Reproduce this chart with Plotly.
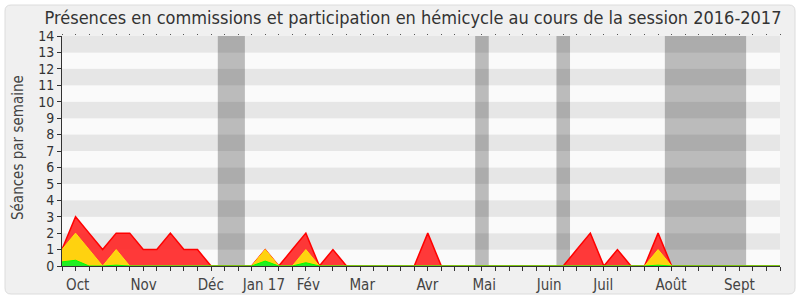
import plotly.graph_objects as go

# ---- data (weekly, session 2016-2017) ----
weeks = list(range(54))
total = [1, 3, 2, 1, 2, 2, 1, 1, 2, 1, 1, 0, 0, 0, 0, 1, 0, 1, 2, 0,
         1, 0, 0, 0, 0, 0, 0, 2, 0, 0, 0, 0, 0, 0, 0, 0, 0, 0, 1, 2,
         0, 1, 0, 0, 2, 0, 0, 0, 0, 0, 0, 0, 0, 0]
hemicycle = [1, 2, 1, 0, 1, 0, 0, 0, 0, 0, 0, 0, 0, 0, 0, 1, 0, 0, 1, 0,
             0, 0, 0, 0, 0, 0, 0, 0, 0, 0, 0, 0, 0, 0, 0, 0, 0, 0, 0, 0,
             0, 0, 0, 0, 1, 0, 0, 0, 0, 0, 0, 0, 0, 0]
commission = [0.25, 0.35, 0, 0, 0.05, 0, 0, 0, 0, 0, 0, 0, 0, 0, 0, 0.3, 0, 0, 0.2, 0,
              0, 0, 0, 0, 0, 0, 0, 0, 0, 0, 0, 0, 0, 0, 0, 0, 0, 0, 0, 0,
              0, 0, 0, 0, 0.05, 0, 0, 0, 0, 0, 0, 0, 0, 0]
month_labels = ["Oct", "Nov", "Déc", "Jan 17", "Fév", "Mar", "Avr", "Mai",
                "Juin", "Juil", "Août", "Sept"]
month_pos = [1.16, 6.02, 10.98, 14.9, 18.18, 22.16, 26.97, 31.17,
             35.96, 39.96, 44.95, 50.0]
vacations = [(11.5, 13.5), (30.5, 31.5), (36.5, 37.5), (44.5, 50.5)]
y_ticks = list(range(15))

# ---- layout geometry ----
W, H = 800, 300
L, R, T, B = 62, 20, 36, 34
PW, PH = W - L - R, H - T - B


def px(x):
    return (x - L) / PW


def py(y):
    return (H - B - y) / PH


FONT = "DejaVu Sans Condensed, DejaVu Sans"
fig = go.Figure()

fig.add_trace(go.Scatter(x=weeks, y=total, mode="lines", fill="tozeroy",
                         line=dict(color="#ff0000", width=1.5),
                         fillcolor="rgba(255,40,40,0.92)",
                         hoverinfo="skip", showlegend=False))
fig.add_trace(go.Scatter(x=weeks, y=hemicycle, mode="lines", fill="tozeroy",
                         line=dict(color="#ffe010", width=1),
                         fillcolor="#ffd20f",
                         hoverinfo="skip", showlegend=False))
fig.add_trace(go.Scatter(x=weeks, y=commission, mode="lines", fill="tozeroy",
                         line=dict(color="#00ff00", width=1),
                         fillcolor="#22ee22",
                         hoverinfo="skip", showlegend=False))
# invisible trace for top tick axis
fig.add_trace(go.Scatter(x=weeks, y=[0] * len(weeks), xaxis="x2", mode="lines",
                         line=dict(width=0), hoverinfo="skip", showlegend=False))

shapes = []
# rounded frame
x0, x1, y0, y1, r = px(5), px(795), py(294), py(5), 6
rx, ry = r / PW, r / PH
path = (f"M {x0+rx},{y1} L {x1-rx},{y1} Q {x1},{y1} {x1},{y1-ry} "
        f"L {x1},{y0+ry} Q {x1},{y0} {x1-rx},{y0} L {x0+rx},{y0} "
        f"Q {x0},{y0} {x0},{y0+ry} L {x0},{y1-ry} Q {x0},{y1} {x0+rx},{y1} Z")
shapes.append(dict(type="path", path=path, xref="paper", yref="paper",
                   fillcolor="#f0f0f0", line=dict(color="#dcdcdc", width=1),
                   layer="below"))
# stripes
for k in range(14):
    shapes.append(dict(type="rect", xref="paper", yref="y", x0=0, x1=1,
                       y0=k, y1=k + 1, line=dict(width=0), layer="below",
                       fillcolor="#e6e6e6" if k % 2 == 1 else "#fafafa"))
# vacation bands
for a, b in vacations:
    shapes.append(dict(type="rect", xref="x", yref="paper", x0=a, x1=b,
                       y0=0, y1=1, line=dict(width=0), layer="below",
                       fillcolor="rgba(0,0,0,0.25)"))

fig.update_layout(
    width=W, height=H,
    margin=dict(l=L, r=R, t=T, b=B, autoexpand=False),
    paper_bgcolor="white", plot_bgcolor="rgba(0,0,0,0)",
    shapes=shapes,
    title=dict(text="Présences en commissions et participation en hémicycle au cours de la session 2016-2017",
               x=413 / W, xref="container", xanchor="center",
               y=1 - 18 / H, yref="container", yanchor="middle",
               font=dict(family=FONT, size=18, color="#333333")),
    xaxis=dict(range=[0, 53], tickvals=month_pos, ticktext=month_labels,
               ticks="outside", ticklen=0, ticklabelstandoff=5,
               showgrid=False, zeroline=False, showline=True,
               linecolor="#333333", linewidth=1, automargin=False,
               tickfont=dict(family=FONT, size=15, color="#444444"),
               minor=dict(tickmode="linear", tick0=0, dtick=1, ticks="outside",
                          ticklen=4, tickcolor="#333333", tickwidth=1,
                          showgrid=False)),
    xaxis2=dict(range=[0, 53], overlaying="x", side="top", matches="x",
                tickmode="array", tickvals=weeks, ticks="outside", ticklen=1,
                tickcolor="#555555", showticklabels=False, showgrid=False,
                zeroline=False, showline=False, automargin=False),
    yaxis=dict(range=[0, 14], tickvals=y_ticks, ticks="outside", ticklen=4,
               tickcolor="#333333", showgrid=False, zeroline=False,
               showline=True, linecolor="#333333", linewidth=1, automargin=False,
               tickfont=dict(family=FONT, size=14, color="#333333")),
    annotations=[dict(text="Séances par semaine", xref="paper", yref="paper",
                      x=px(18), y=py(148), xanchor="center", yanchor="middle",
                      textangle=-90, showarrow=False,
                      font=dict(family=FONT, size=15, color="#444444"))],
)

fig.write_html("out.html")
